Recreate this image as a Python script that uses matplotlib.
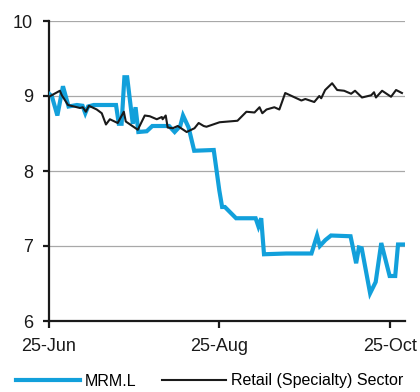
import matplotlib
matplotlib.use("Agg")
import matplotlib.pyplot as plt

plt.rcParams['font.family'] = ['Liberation Sans', 'DejaVu Sans']

# days since 25-Jun
mrm_days = [0, 1, 3, 5, 7, 10, 12, 13, 14, 16, 20, 24, 25, 26, 27, 28, 30, 31, 32,
            35, 37, 43, 45, 47, 48, 50, 52, 59, 61, 62, 63, 67, 74, 75, 76, 77,
            85, 94, 96, 97, 99, 101, 108, 109, 110, 111, 112, 115, 117, 119,
            122, 124, 125, 127]
mrm_vals = [9.03, 9.0, 8.74, 9.13, 8.86, 8.88, 8.87, 8.77, 8.86, 8.88, 8.88, 8.88, 8.63, 8.63, 9.25, 9.25, 8.63, 8.85, 8.52,
            8.53, 8.6, 8.6, 8.52, 8.6, 8.74, 8.58, 8.27, 8.28, 7.74, 7.52, 7.52, 7.37, 7.37, 7.26, 7.37, 6.89,
            6.9, 6.9, 7.14, 7.0, 7.08, 7.14, 7.13, 6.95, 6.77, 6.98, 6.97, 6.37, 6.52, 7.04,
            6.6, 6.6, 7.02, 7.02]

sector_days = [0, 3.9, 4.6, 6.8, 11.1, 12.1, 13.2, 14.3, 17.1, 18.9, 20.4, 21.8, 24.6, 26.8, 27.5,
               31.8, 34.3, 36.1, 38.6, 40.4, 40.7, 41.8, 42.5, 44.3, 46.1, 49.3, 52.1, 53.6, 55.4,
               56.4, 61.1, 67.5, 70.7, 73.6, 75.4, 76.4, 77.9, 80.7, 82.5, 84.6, 90.4, 91.8, 95,
               96.8, 97.5, 98.9, 101.4, 103.2, 105.7, 108.2, 109.6, 112.1, 115.4, 116.4, 117.1,
               119.3, 122.5, 124.3, 126.4]
sector_vals = [8.99, 9.07, 9.01, 8.88, 8.84, 8.85, 8.79, 8.87, 8.82, 8.77, 8.62, 8.69, 8.64, 8.79, 8.66,
               8.55, 8.74, 8.73, 8.69, 8.72, 8.69, 8.74, 8.58, 8.57, 8.6, 8.52, 8.57, 8.64, 8.6,
               8.59, 8.65, 8.67, 8.79, 8.78, 8.85, 8.77, 8.82, 8.85, 8.82, 9.04, 8.94, 8.96, 8.92,
               9.0, 8.97, 9.08, 9.17, 9.08, 9.07, 9.03, 9.07, 8.98, 9.01, 9.05, 8.98,
               9.07, 8.99, 9.08, 9.04]

tick_days = [0, 61, 122]
tick_labels = ["25-Jun", "25-Aug", "25-Oct"]

fig = plt.figure(figsize=(4.2, 3.92), dpi=100)
ax = fig.add_axes([49/420, 1-321/392, 356/420, 300/392])

ax.plot(mrm_days, mrm_vals, color='#12A0DB', lw=3.0, solid_joinstyle='miter', label='MRM.L', zorder=3)
ax.plot(sector_days, sector_vals, color='#1a1a1a', lw=1.5, label='Retail (Specialty) Sector', zorder=4)

ax.set_xlim(0, 127.5)
ax.set_ylim(6, 10)
ax.set_yticks([6, 7, 8, 9, 10])
ax.set_xticks(tick_days)
ax.set_xticklabels(tick_labels)
ax.grid(axis='y', color='#a8a8a8', lw=0.9)
ax.set_axisbelow(True)
for s in ['top', 'right']:
    ax.spines[s].set_visible(False)
for s in ['left', 'bottom']:
    ax.spines[s].set_linewidth(1.6)
    ax.spines[s].set_color('#1a1a1a')
ax.tick_params(axis='y', length=4.5, width=1.6, pad=7, labelsize=13, colors='#1a1a1a')
ax.tick_params(axis='x', length=5, width=1.6, pad=7, labelsize=13, colors='#1a1a1a')

fig.legend(loc='center left', bbox_to_anchor=(16/420, 1-381/392), ncol=2, frameon=False,
           fontsize=11.5, handlelength=4.0, handletextpad=0.3, columnspacing=1.6,
           borderpad=0, borderaxespad=0)

fig.savefig("out.png", dpi=100)
